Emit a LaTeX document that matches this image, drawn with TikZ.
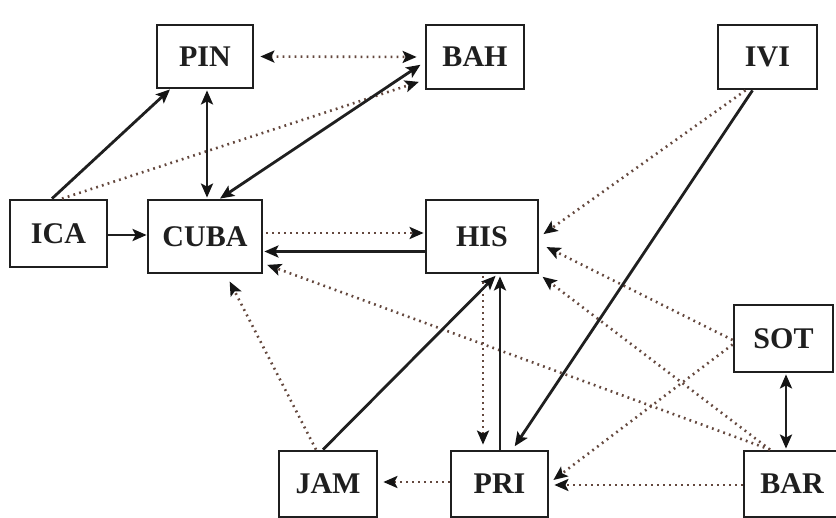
\documentclass[tikz,border=0pt]{standalone}
\usepackage{fontspec}
\setmainfont{Liberation Serif}
\usetikzlibrary{arrows.meta,calc}
\definecolor{dotbrown}{RGB}{100,72,62}
\begin{document}
\begin{tikzpicture}[x=1pt,y=-1pt,
  box/.style={draw=black!88,line width=2.8pt,fill=white,inner sep=0pt,
    font=\fontsize{30}{30}\selectfont\bfseries,text=black!88},
  solidlink/.style={draw=black!88,line width=2.8pt},
  dotlink/.style={draw=dotbrown,line width=2.6pt,dash pattern=on 1.8pt off 4.2pt},
  fwd/.style={-{Stealth[length=14pt,width=12pt,inset=3pt,black!92]}},
  both/.style={{Stealth[length=14pt,width=12pt,inset=3pt,black!92]}-{Stealth[length=14pt,width=12pt,inset=3pt,black!92]}}]
\useasboundingbox (0,0) rectangle (836,518);
\clip (0,0) rectangle (836,518);
\fill[white] (0,0) rectangle (836,518);

% island boxes
\node[box,minimum width=96pt,minimum height=63pt]  (PIN)  at (205,56.5)  {PIN};
\node[box,minimum width=98pt,minimum height=64pt]  (BAH)  at (475,57)    {BAH};
\node[box,minimum width=99pt,minimum height=64pt]  (IVI)  at (767.5,57)  {IVI};
\node[box,minimum width=97pt,minimum height=67pt]  (ICA)  at (58.5,233.5) {ICA};
\node[box,minimum width=114pt,minimum height=73pt] (CUBA) at (205,236.5) {CUBA};
\node[box,minimum width=112pt,minimum height=73pt] (HIS)  at (482,236.5) {HIS};
\node[box,minimum width=99pt,minimum height=67pt]  (SOT)  at (783.5,338.5) {SOT};
\node[box,minimum width=98pt,minimum height=66pt]  (JAM)  at (328,484)   {JAM};
\node[box,minimum width=97pt,minimum height=66pt]  (PRI)  at (499.5,484) {PRI};
\node[box,minimum width=96pt,minimum height=66pt]  (BAR)  at (792,484)   {BAR};

% dotted links
\draw[dotlink,both,shorten <=6pt,shorten >=8pt] (PIN.east) -- (BAH.west);
\draw[dotlink,fwd,shorten >=6pt] ([xshift=3.5pt]ICA.north) -- ([yshift=-23pt]BAH.west);
\draw[dotlink,fwd,shorten <=3pt,shorten >=1pt] ([yshift=3.5pt]CUBA.east) -- ([yshift=3.5pt]HIS.west);
\draw[dotlink,fwd,shorten >=5pt] ([xshift=-22pt]IVI.south) -- ([yshift=-0.5pt]HIS.east);
\draw[dotlink,fwd,shorten >=8pt] ([yshift=-1.5pt]SOT.west) -- ([yshift=-7pt]HIS.east);
\draw[dotlink,fwd,shorten >=4pt] ([xshift=-22pt]BAR.north) -- (HIS.south east);
\draw[dotlink,fwd,shorten >=4pt] ([xshift=-22pt]BAR.north) -- ([yshift=-27pt]CUBA.east);
\draw[dotlink,fwd,shorten >=5pt] ([yshift=-6pt]SOT.west) -- ([yshift=1pt]PRI.east);
\draw[dotlink,fwd,shorten >=5pt] ([yshift=-1pt]BAR.west) -- ([yshift=-1pt]PRI.east);
\draw[dotlink,fwd,shorten >=5pt] ([yshift=2pt]PRI.west) -- ([yshift=2pt]JAM.east);
\draw[dotlink,fwd,shorten >=8pt] ([xshift=-12pt]JAM.north) -- ([xshift=21pt]CUBA.south);
\draw[dotlink,fwd,shorten <=2pt,shorten >=5pt] ([xshift=1pt]HIS.south) -- ([xshift=-16.5pt]PRI.north);

% solid links
\draw[solidlink,fwd] ([xshift=-6.5pt]ICA.north) -- ([xshift=-35pt]PIN.south);
\draw[solidlink,both,shorten <=1pt,shorten >=1pt] ([xshift=2pt]PIN.south) -- ([xshift=2pt]CUBA.north);
\draw[solidlink,both,shorten >=5pt] ([xshift=15pt]CUBA.north) -- ([yshift=-5pt]BAH.west);
\draw[solidlink,fwd] ([yshift=-1.5pt]ICA.east) -- ([yshift=1.5pt]CUBA.west);
\draw[solidlink,fwd,shorten >=1pt] ([yshift=-15pt]HIS.west) -- ([yshift=-15pt]CUBA.east);
\draw[solidlink,fwd,shorten >=4pt] ([xshift=-15pt]IVI.south) -- ([xshift=13pt]PRI.north);
\draw[solidlink,both,shorten <=1pt,shorten >=1pt] ([xshift=2.5pt]SOT.south) -- ([xshift=-6pt]BAR.north);
\draw[solidlink,fwd,shorten >=2pt] ([xshift=-5pt]JAM.north) -- ([xshift=15pt]HIS.south);
\draw[solidlink,fwd,shorten >=2pt] ([xshift=0.5pt]PRI.north) -- ([xshift=18pt]HIS.south);
\end{tikzpicture}
\end{document}
